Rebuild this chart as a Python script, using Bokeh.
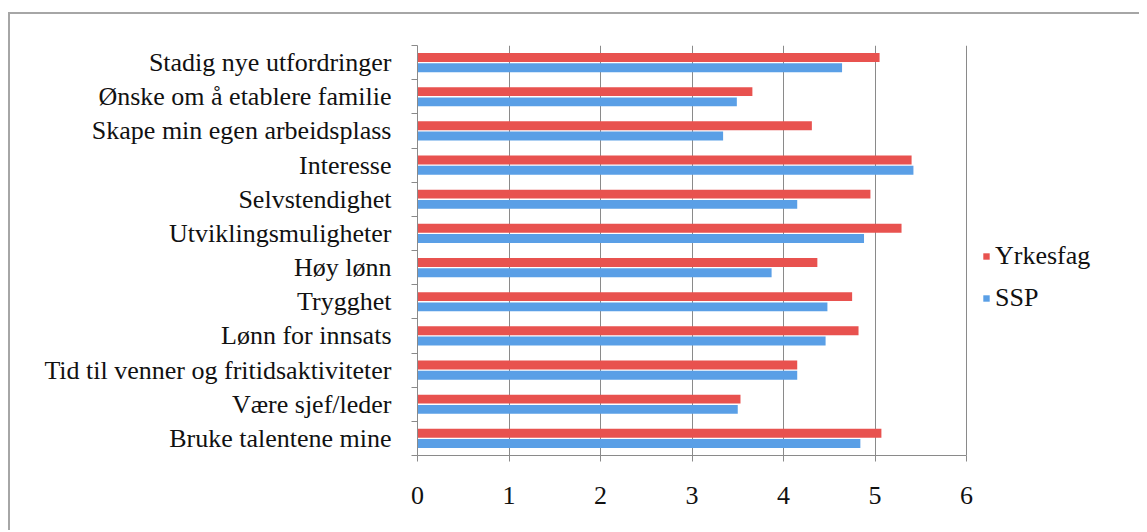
from bokeh.plotting import figure
from bokeh.models import ColumnDataSource, FixedTicker, Legend, LegendItem, Range1d
from bokeh.embed import file_html
from bokeh.resources import INLINE

categories = [
    "Stadig nye utfordringer",
    "Ønske om å etablere familie",
    "Skape min egen arbeidsplass",
    "Interesse",
    "Selvstendighet",
    "Utviklingsmuligheter",
    "Høy lønn",
    "Trygghet",
    "Lønn for innsats",
    "Tid til venner og fritidsaktiviteter",
    "Være sjef/leder",
    "Bruke talentene mine",
]
yrkesfag = [5.05, 3.66, 4.31, 5.40, 4.95, 5.29, 4.37, 4.75, 4.82, 4.15, 3.53, 5.07]
ssp = [4.64, 3.49, 3.34, 5.42, 4.15, 4.88, 3.87, 4.48, 4.46, 4.15, 3.50, 4.84]
x_ticks = [0, 1, 2, 3, 4, 5, 6]

n = len(categories)
pos = [n - 1 - i + 0.5 for i in range(n)]  # top category first

src = ColumnDataSource(dict(
    pos=pos,
    y_red=[p_ + 0.15 for p_ in pos],
    y_blue=[p_ - 0.15 for p_ in pos],
    yrk=yrkesfag,
    ssp=ssp,
))

FONT = "'Liberation Serif'"
FS = "26px"
RED = "#e8524f"
BLUE = "#5a9fe6"
GRID = "#8a8a8a"

W, H = 1131, 518
BL, BR, BT, BB = 407, 10, 31, 77
axis_px = 549  # pixel length of the 0..6 span
frame_w = W - BL - BR
x_end = x_ticks[-1] * frame_w / axis_px

p = figure(width=W, height=H, output_backend="svg", toolbar_location=None,
           x_range=Range1d(0, x_end), y_range=Range1d(0, n),
           min_border_left=BL, min_border_right=BR, min_border_top=BT, min_border_bottom=BB)
p.styles = {"border-left": "2px solid #a6a6a6", "border-top": "2px solid #a6a6a6",
            "margin-top": "12px", "margin-left": "8px"}
p.outline_line_color = None
p.background_fill_color = "white"
p.border_fill_color = "white"

r_red = p.hbar(y="y_red", right="yrk", left=0, height=0.26, source=src, fill_color=RED, line_color=None)
r_blue = p.hbar(y="y_blue", right="ssp", left=0, height=0.26, source=src, fill_color=BLUE, line_color=None)

# x axis
p.xaxis.ticker = FixedTicker(ticks=x_ticks)
p.xaxis.bounds = (x_ticks[0], x_ticks[-1])
p.xaxis.axis_line_color = GRID
p.xaxis.major_tick_line_color = GRID
p.xaxis.major_tick_out = 6
p.xaxis.major_tick_in = 0
p.xaxis.minor_tick_line_color = None
p.xaxis.major_label_text_font = FONT
p.xaxis.major_label_text_font_size = FS
p.xaxis.major_label_text_color = "#111111"
p.xaxis.major_label_standoff = 25

# y axis
p.yaxis.ticker = FixedTicker(ticks=pos, minor_ticks=list(range(n + 1)))
p.yaxis.major_label_overrides = {pp: c for pp, c in zip(pos, categories)}
p.yaxis.axis_line_color = GRID
p.yaxis.major_tick_line_color = None
p.yaxis.major_tick_out = 0
p.yaxis.major_tick_in = 0
p.yaxis.minor_tick_line_color = GRID
p.yaxis.minor_tick_out = 6
p.yaxis.minor_tick_in = 0
p.yaxis.major_label_text_font = FONT
p.yaxis.major_label_text_font_size = FS
p.yaxis.major_label_text_color = "#111111"
p.yaxis.major_label_standoff = 20

p.xgrid.grid_line_color = GRID
p.xgrid.grid_line_width = 1
p.ygrid.grid_line_color = None

legend = Legend(items=[LegendItem(label="Yrkesfag", renderers=[r_red]),
                       LegendItem(label="SSP", renderers=[r_blue])],
                location=(565, 142))
legend.label_text_font = FONT
legend.label_text_font_size = FS
legend.label_text_color = "#111111"
legend.glyph_width = 8
legend.glyph_height = 8
legend.label_standoff = 5
legend.spacing = 12
legend.padding = 0
legend.margin = 0
legend.border_line_color = None
legend.background_fill_alpha = 0
p.add_layout(legend, "center")

open("out.html", "w").write(file_html(p, INLINE))
